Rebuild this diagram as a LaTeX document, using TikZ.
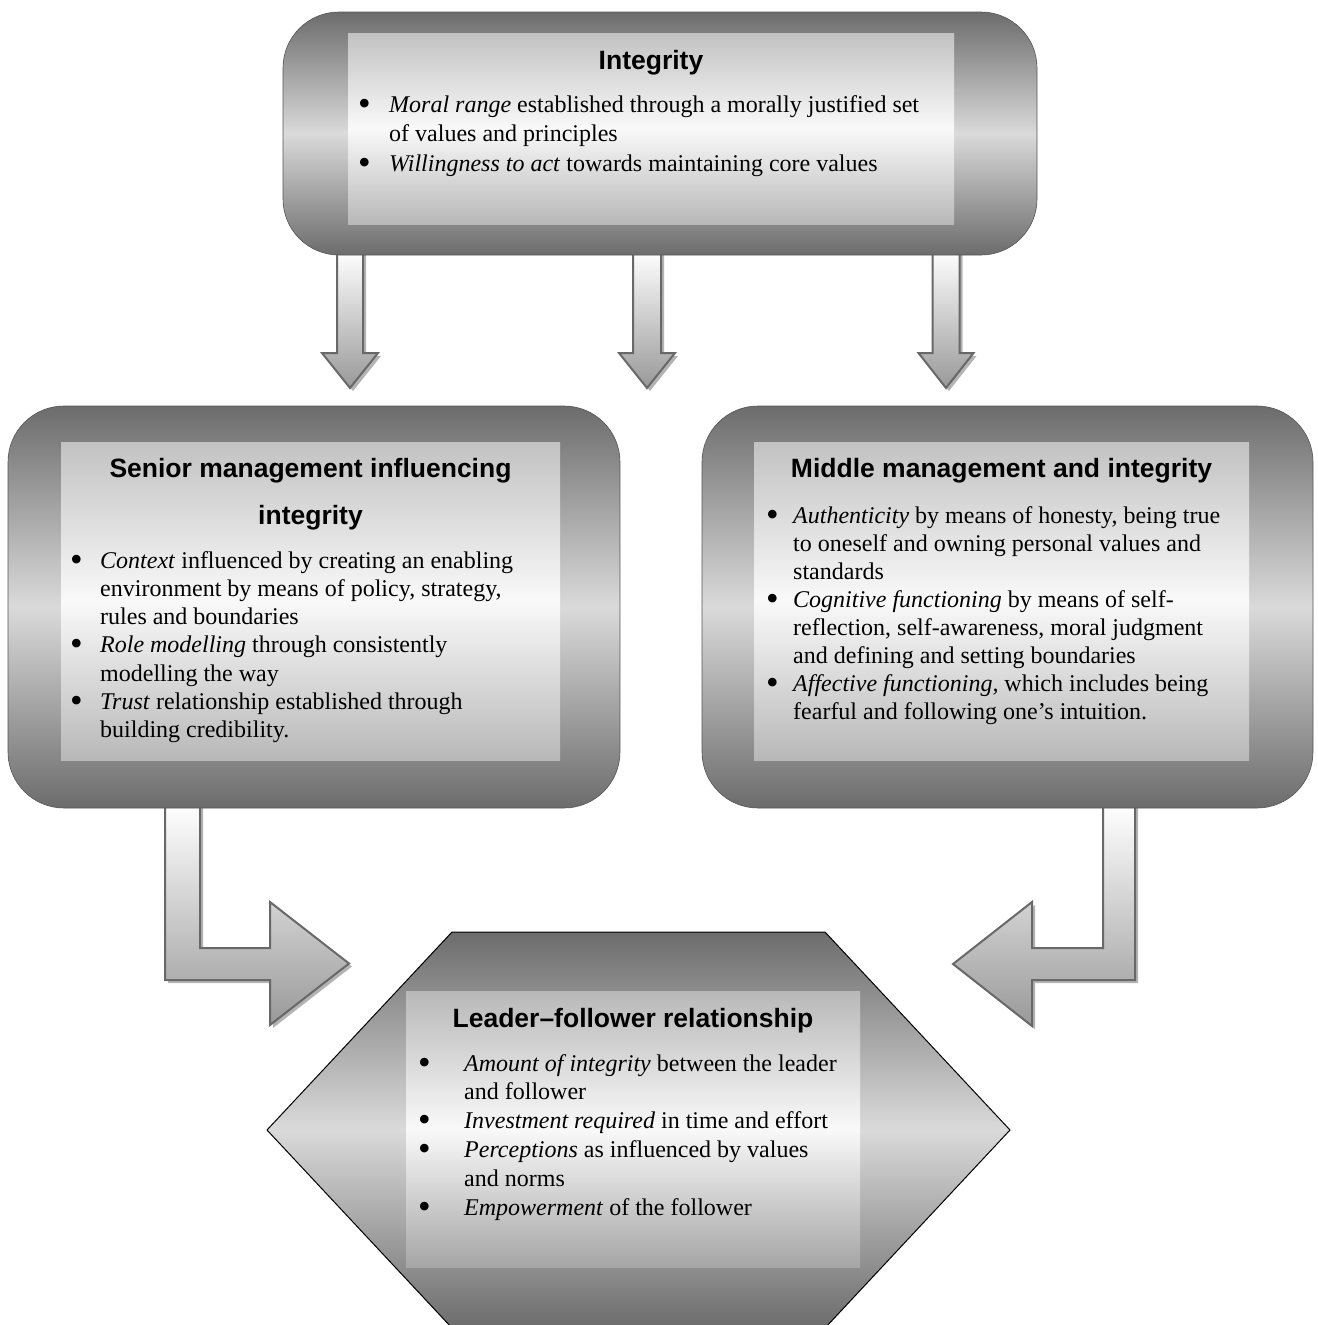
\documentclass[tikz,border=0pt]{standalone}
\usepackage{fontspec}
\setmainfont{Liberation Serif}
\newfontfamily\headfont{Liberation Sans}
\definecolor{outdark}{HTML}{6C6C6C}
\definecolor{outlight}{HTML}{DADADA}
\definecolor{indark}{HTML}{C2C2C2}
\definecolor{indarkb}{HTML}{B8B8B8}
\definecolor{inlight}{HTML}{F9F9F9}
\definecolor{arrline}{HTML}{686868}
\definecolor{arrdark}{HTML}{999999}
\definecolor{arrshadow}{HTML}{B4B4B4}
\newcommand{\bigbul}{\smash{\raisebox{-3pt}{\scalebox{1.5}{\textbullet}}}}
\newcommand{\bl}[2]{\par\noindent\hangindent=#1\hangafter=1\makebox[#1][l]{\bigbul}#2}
\begin{document}
\begin{tikzpicture}[x=1pt,y=-1pt,
  outerbox/.style={rounded corners=56pt, draw=outdark!80!black, line width=0.6pt,
     top color=outdark, bottom color=outdark, middle color=outlight},
  innerbox/.style={top color=indark, bottom color=indarkb, middle color=inlight},
  hexshape/.style={draw=black, line width=1pt, top color=outdark, bottom color=outdark, middle color=outlight},
  hexinner/.style={top color=indarkb, bottom color=indarkb!90!black, middle color=inlight},
  arrowbody/.style={draw=arrline, line width=2pt, line join=miter, top color=white, bottom color=arrdark},
  arrowshadow/.style={fill=arrshadow, shift={(3,3)}},
  head/.style={font=\headfont\bfseries\fontsize{26.5}{30}\selectfont, inner sep=0pt, anchor=base},
  body/.style={inner sep=0pt, anchor=base west}
]
\useasboundingbox (0,0) rectangle (1317,1325);
\fill[white] (0,0) rectangle (1317,1325);

% ---- down arrows (shadows then bodies)
\foreach \cx/\sw/\hw in {350/13/28, 647/14/28, 946/13.5/27.5}{
  \path[arrowshadow] (\cx-\sw,250) -- (\cx-\sw,353) -- (\cx-\hw,353) -- (\cx,388) -- (\cx+\hw,353) -- (\cx+\sw,353) -- (\cx+\sw,250) -- cycle;
  \path[arrowbody] (\cx-\sw,250) -- (\cx-\sw,353) -- (\cx-\hw,353) -- (\cx,388) -- (\cx+\hw,353) -- (\cx+\sw,353) -- (\cx+\sw,250) -- cycle;
}

% ---- bent arrows
\path[arrowshadow] (165,805) -- (165,980) -- (270,980) -- (270,1025) -- (349,963.5) -- (270,902) -- (270,948) -- (200,948) -- (200,805) -- cycle;
\path[arrowbody] (165,805) -- (165,980) -- (270,980) -- (270,1025) -- (349,963.5) -- (270,902) -- (270,948) -- (200,948) -- (200,805) -- cycle;
\path[arrowshadow] (1135,805) -- (1135,980) -- (1032,980) -- (1032,1026) -- (953,964) -- (1032,902) -- (1032,948) -- (1103,948) -- (1103,805) -- cycle;
\path[arrowbody] (1135,805) -- (1135,980) -- (1032,980) -- (1032,1026) -- (953,964) -- (1032,902) -- (1032,948) -- (1103,948) -- (1103,805) -- cycle;

% ---- top box
\path[outerbox] (283,12) rectangle (1037,255);
\path[innerbox] (348,33) rectangle (954,224);
\node[head] (h1) at (651,69.5) {Integrity};
\node[body] (b1) at (358,112) {\parbox[t]{640pt}{\fontsize{24}{29.5}\selectfont
  \bl{31pt}{\textit{Moral range} established through a morally justified set\newline of values and principles}
  \bl{31pt}{\textit{Willingness to act} towards maintaining core values}}};

% ---- left box
\path[outerbox] (8,406) rectangle (620,808);
\path[innerbox] (61,442) rectangle (560,760);
\node[head] (h2a) at (310.5,477.5) {Senior management influencing};
\node[head] (h2b) at (310.5,524.5) {integrity};
\node[body] (b2) at (70,568) {\parbox[t]{560pt}{\fontsize{24}{28.3}\selectfont
  \bl{30pt}{\textit{Context} influenced by creating an enabling\newline environment by means of policy, strategy,\newline rules and boundaries}
  \bl{30pt}{\textit{Role modelling} through consistently\newline modelling the way}
  \bl{30pt}{\textit{Trust} relationship established through\newline building credibility.}}};

% ---- right box
\path[outerbox] (702,406) rectangle (1313,808);
\path[innerbox] (754,442) rectangle (1249,760);
\node[head] (h3) at (1001.5,477.5) {Middle management and integrity};
\node[body] (b3) at (766,523) {\parbox[t]{560pt}{\fontsize{24}{28.1}\selectfont
  \bl{27pt}{\textit{Authenticity} by means of honesty, being true\newline to oneself and owning personal values and\newline standards}
  \bl{27pt}{\textit{Cognitive functioning} by means of self-\newline reflection, self-awareness, moral judgment\newline and defining and setting boundaries}
  \bl{27pt}{\textit{Affective functioning,} which includes being\newline fearful and following one’s intuition.}}};

% ---- hexagon
\path[hexshape] (452,932) -- (825,932) -- (1010,1130) -- (825,1328) -- (452,1328) -- (267,1130) -- cycle;
\path[hexinner] (406,991) rectangle (860,1267);
\node[head] (h4) at (633,1027.5) {Leader–follower relationship};
\node[body] (b4) at (418,1071) {\parbox[t]{560pt}{\fontsize{24}{28.8}\selectfont
  \bl{46pt}{\textit{Amount of integrity} between the leader\newline and follower}
  \bl{46pt}{\textit{Investment required} in time and effort}
  \bl{46pt}{\textit{Perceptions} as influenced by values\newline and norms}
  \bl{46pt}{\textit{Empowerment} of the follower}}};
\end{tikzpicture}
\end{document}
